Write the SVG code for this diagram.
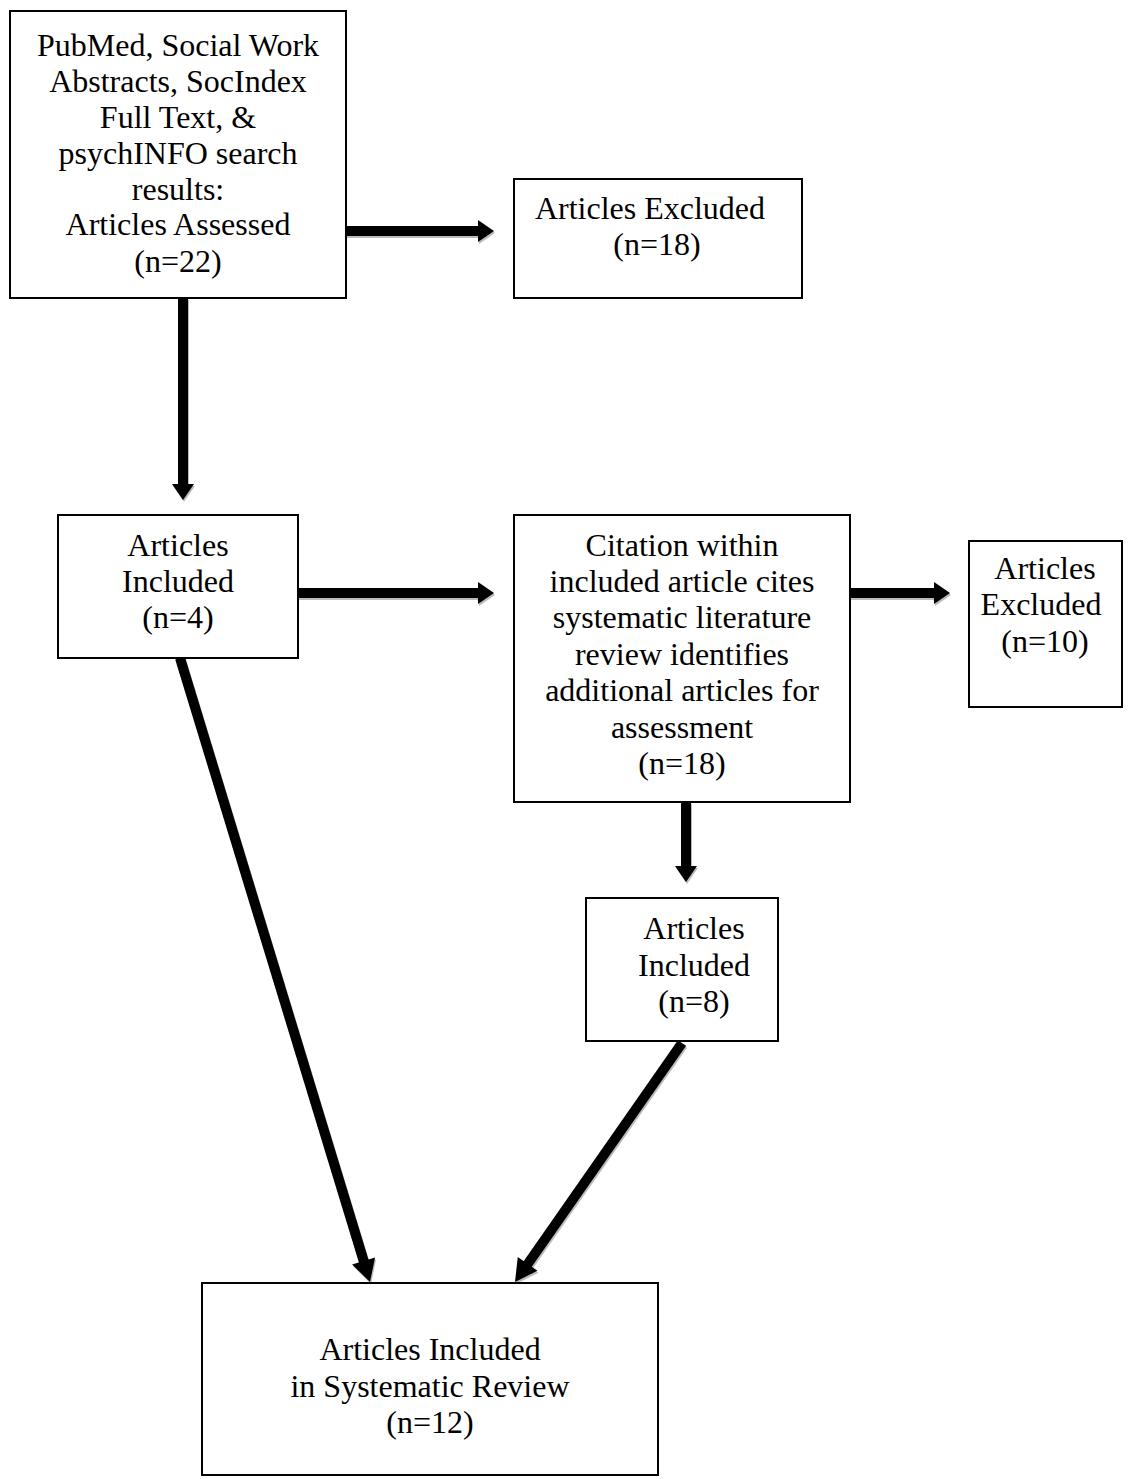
<svg xmlns="http://www.w3.org/2000/svg" width="1128" height="1479" viewBox="0 0 1128 1479">
<style>
.box{fill:#fff;stroke:#000;stroke-width:2}
.t{font-family:"Liberation Serif","Times New Roman",serif;font-size:32px;fill:#000;text-anchor:middle}
.sh{stroke:#000;stroke-width:10;fill:none}
.shd{stroke:#bbb;stroke-width:10;fill:none}
</style>
<defs>
<path id="head" d="M0,0 L-16,-11 L-16,11 Z"/>
<path id="headL" d="M0,0 L-22,-12 L-22,12 Z"/>
</defs>
<rect width="1128" height="1479" fill="#fff"/>
<g id="connectors">
<g transform="translate(1,2)" fill="#bbb">
<line class="shd" x1="346" y1="231" x2="480" y2="231"/>
<use href="#head" transform="translate(494,231)"/>
<line class="shd" x1="183" y1="298" x2="183" y2="486"/>
<use href="#head" transform="translate(183,500) rotate(90)"/>
<line class="shd" x1="298" y1="593" x2="480" y2="593"/>
<use href="#head" transform="translate(494,593)"/>
<line class="shd" x1="850" y1="593" x2="936" y2="593"/>
<use href="#head" transform="translate(950,593)"/>
<line class="shd" x1="686" y1="802" x2="686" y2="868"/>
<use href="#head" transform="translate(686,882) rotate(90)"/>
<line class="shd" x1="180" y1="658" x2="364" y2="1262"/>
<use href="#headL" transform="translate(370,1282) rotate(73.07)"/>
<line class="shd" x1="682" y1="1043" x2="527" y2="1265"/>
<use href="#headL" transform="translate(515,1282) rotate(124.94)"/>
</g>
<g fill="#000">
<line class="sh" x1="346" y1="231" x2="480" y2="231"/>
<use href="#head" transform="translate(494,231)"/>
<line class="sh" x1="183" y1="298" x2="183" y2="486"/>
<use href="#head" transform="translate(183,500) rotate(90)"/>
<line class="sh" x1="298" y1="593" x2="480" y2="593"/>
<use href="#head" transform="translate(494,593)"/>
<line class="sh" x1="850" y1="593" x2="936" y2="593"/>
<use href="#head" transform="translate(950,593)"/>
<line class="sh" x1="686" y1="802" x2="686" y2="868"/>
<use href="#head" transform="translate(686,882) rotate(90)"/>
<line class="sh" x1="180" y1="658" x2="364" y2="1262"/>
<use href="#headL" transform="translate(370,1282) rotate(73.07)"/>
<line class="sh" x1="682" y1="1043" x2="527" y2="1265"/>
<use href="#headL" transform="translate(515,1282) rotate(124.94)"/>
</g>
</g>
<g id="search">
<rect class="box" x="10" y="11" width="336" height="287"/>
<text class="t"><tspan x="178" y="56">PubMed, Social Work</tspan><tspan x="178" y="92">Abstracts, SocIndex</tspan><tspan x="178" y="128">Full Text, &amp;</tspan><tspan x="178" y="164">psychINFO search</tspan><tspan x="178" y="200">results:</tspan><tspan x="178" y="235">Articles Assessed</tspan><tspan x="178" y="272">(n=22)</tspan></text>
</g>
<g id="excluded1">
<rect class="box" x="514" y="179" width="288" height="119"/>
<text class="t"><tspan x="650" y="219">Articles Excluded</tspan><tspan x="657" y="255">(n=18)</tspan></text>
</g>
<g id="included1">
<rect class="box" x="58" y="515" width="240" height="143"/>
<text class="t"><tspan x="178" y="556">Articles</tspan><tspan x="178" y="592">Included</tspan><tspan x="178" y="628">(n=4)</tspan></text>
</g>
<g id="citation">
<rect class="box" x="514" y="515" width="336" height="287"/>
<text class="t"><tspan x="682" y="556">Citation within</tspan><tspan x="682" y="592">included article cites</tspan><tspan x="682" y="628">systematic literature</tspan><tspan x="682" y="665">review identifies</tspan><tspan x="682" y="701">additional articles for</tspan><tspan x="682" y="738">assessment</tspan><tspan x="682" y="774">(n=18)</tspan></text>
</g>
<g id="excluded2">
<rect class="box" x="969" y="541" width="153" height="166"/>
<text class="t"><tspan x="1045" y="579">Articles</tspan><tspan x="1041" y="615">Excluded</tspan><tspan x="1045" y="652">(n=10)</tspan></text>
</g>
<g id="included2">
<rect class="box" x="586" y="898" width="192" height="143"/>
<text class="t"><tspan x="694" y="939">Articles</tspan><tspan x="694" y="976">Included</tspan><tspan x="694" y="1012">(n=8)</tspan></text>
</g>
<g id="final">
<rect class="box" x="202" y="1283" width="456" height="192"/>
<text class="t"><tspan x="430" y="1360">Articles Included</tspan><tspan x="430" y="1397">in Systematic Review</tspan><tspan x="430" y="1433">(n=12)</tspan></text>
</g>
</svg>
